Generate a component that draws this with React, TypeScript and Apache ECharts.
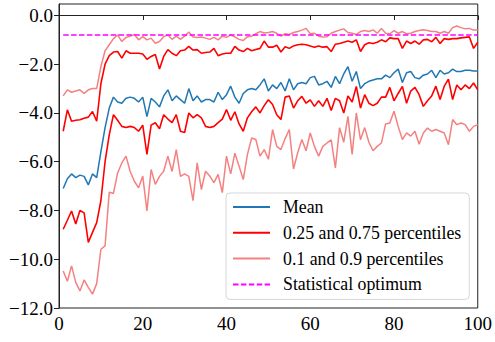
import React, { useEffect, useRef } from "react";
import * as echarts from "echarts";

const xValues: number[] = Array.from({ length: 100 }, (_, i) => i + 1);

const meanValues: number[] = [
  -7.1, -6.7, -6.5, -6.65, -6.55, -6.6, -6.95, -6.5, -6.65, -5.6,
  -4.6, -3.8, -3.35, -3.55, -3.6, -3.4, -3.35, -3.4, -3.55, -3.35,
  -4.15, -3.4, -3.55, -3.75, -3.3, -3.05, -3.5, -3.3, -3.45, -3.6,
  -3.0, -3.5, -3.3, -3.55, -3.45, -3.45, -3.55, -3.15, -3.45, -3.25,
  -2.9, -3.35, -3.6, -3.2, -3.05, -3.0, -3.05, -2.85, -2.6, -3.1,
  -2.85, -3.0, -2.75, -3.1, -2.6, -3.05, -2.8, -2.75, -2.8, -2.55,
  -2.5, -2.85, -2.8, -2.7, -2.95, -2.5, -2.8, -2.4, -2.1, -2.7,
  -2.3, -3.0, -2.8, -2.7, -2.65, -2.6, -2.6, -2.45, -2.55, -2.35,
  -2.2, -2.75, -2.35, -2.3, -2.55, -2.6, -2.45, -2.4, -2.25, -2.55,
  -2.25, -2.4, -2.35, -2.2, -2.3, -2.3, -2.25, -2.25, -2.28, -2.28,
];

const p75Values: number[] = [
  -4.75, -3.87, -4.34, -4.3, -4.28, -4.22, -4.17, -3.94, -4.34, -2.8,
  -2.0, -1.65, -1.5, -1.48, -1.75, -1.45, -1.55, -1.55, -1.55, -1.58,
  -1.8, -1.68, -1.6, -2.2, -1.68, -1.4, -1.55, -1.65, -1.45, -1.42,
  -1.27, -1.42, -1.4, -1.55, -1.52, -1.5, -1.35, -1.65, -1.58, -1.55,
  -1.55, -1.27, -1.42, -1.48, -1.35, -1.45, -1.4, -1.35, -1.05, -1.3,
  -1.3, -1.22, -1.5, -1.28, -1.35, -1.25, -1.2, -1.18, -1.2, -1.25,
  -1.3, -1.25, -1.3, -1.28, -1.48, -1.18, -1.15, -1.1, -1.05, -1.1,
  -1.0, -1.48, -1.2, -1.12, -1.15, -1.1, -1.0, -1.08, -0.92, -0.95,
  -0.95, -1.35, -1.05, -1.15, -1.05, -1.18, -1.0, -0.98, -1.08, -0.9,
  -1.15, -0.95, -0.98, -0.95, -0.95, -0.92, -0.9, -0.88, -1.35, -1.1,
];

const p25Values: number[] = [
  -8.77, -8.4, -8.02, -8.55, -8.0, -8.1, -9.31, -8.9, -8.5, -7.6,
  -6.0, -4.9, -4.07, -4.3, -4.55, -4.6, -4.55, -4.6, -4.75, -4.5,
  -5.7, -4.5, -4.4, -4.65, -4.07, -4.25, -4.4, -4.07, -4.75, -4.8,
  -4.0, -4.2, -4.07, -4.2, -4.55, -4.6, -4.55, -4.4, -4.25, -3.86,
  -4.3, -3.95, -4.45, -4.75, -4.2, -3.95, -3.75, -4.0, -3.7, -3.46,
  -3.65, -4.07, -4.27, -3.35, -3.3, -3.8, -3.5, -3.32, -3.6, -3.46,
  -3.73, -3.5, -3.73, -3.4, -3.9, -3.4, -3.5, -4.0, -3.3, -3.55,
  -2.91, -3.8, -3.25, -3.6, -3.7, -3.6, -3.35, -3.35, -2.95, -3.5,
  -3.2, -2.91, -3.6, -3.1, -2.95, -3.25, -3.73, -3.5, -3.3, -2.9,
  -3.45, -2.9, -2.61, -3.45, -2.85, -3.05, -2.85, -3.0, -2.77, -3.05,
];

const p90Values: number[] = [
  -3.3, -3.05, -3.15, -3.1, -3.05, -3.2, -3.05, -3.0, -3.0, -2.1,
  -1.45, -1.2, -0.95, -0.8, -1.07, -0.9, -0.85, -0.78, -1.0, -0.87,
  -1.0, -0.93, -1.14, -1.07, -0.87, -0.8, -0.98, -0.85, -0.98, -0.85,
  -0.68, -0.88, -0.9, -0.88, -0.93, -0.98, -0.9, -1.0, -0.85, -0.9,
  -0.8, -0.88, -0.98, -1.03, -0.87, -0.85, -0.75, -0.66, -0.72, -0.7,
  -0.66, -0.73, -0.85, -0.75, -0.78, -0.7, -0.66, -0.6, -0.53, -0.75,
  -0.73, -0.85, -0.88, -0.87, -0.73, -0.66, -0.6, -0.55, -0.7, -0.73,
  -0.78, -0.66, -0.62, -0.66, -0.59, -0.73, -0.53, -0.73, -0.75, -0.62,
  -0.73, -0.66, -0.75, -0.73, -0.66, -0.62, -0.59, -0.62, -0.66, -0.66,
  -0.73, -0.66, -0.73, -0.5, -0.43, -0.5, -0.55, -0.53, -0.6, -0.6,
];

const p10Values: number[] = [
  -10.48, -10.9, -10.27, -10.95, -11.3, -10.85, -11.15, -11.43, -11.0, -9.59,
  -9.45, -7.25, -7.3, -6.46, -6.05, -5.77, -6.4, -6.8, -7.07, -6.59,
  -8.02, -6.32, -6.93, -6.6, -6.39, -5.77, -6.4, -5.5, -6.6, -6.5,
  -6.6, -7.6, -6.05, -7.14, -6.39, -6.59, -6.86, -6.52, -7.27, -5.77,
  -6.5, -5.65, -6.18, -6.73, -5.7, -5.03, -5.09, -5.77, -5.5, -5.9,
  -4.68, -5.37, -5.5, -5.05, -4.68, -6.3, -5.63, -5.09, -5.55, -4.82,
  -5.37, -5.77, -5.37, -5.23, -5.1, -6.25, -4.6, -5.2, -4.14, -5.7,
  -4.0, -5.1, -4.6, -5.2, -5.55, -5.37, -5.23, -4.45, -4.41, -3.93,
  -4.55, -5.09, -4.82, -4.95, -4.75, -5.28, -4.82, -4.62, -4.75, -4.68,
  -4.75, -4.82, -5.3, -4.27, -4.48, -4.41, -4.48, -4.75, -4.55, -4.48,
];

const optimumX: number[] = [1, 100];
const optimumValue = -0.8;

const yTicks: number[] = [-12, -10, -8, -6, -4, -2, 0];

const legendNames: string[] = [
  "Mean",
  "0.25 and 0.75 percentiles",
  "0.1 and 0.9 percentiles",
  "Statistical optimum",
];

const FONT = "Liberation Serif";

function pairs(xs: number[], ys: number[]): number[][] {
  return ys.map((v, i) => [xs[i], v]);
}

export default function App() {
  const ref = useRef<HTMLDivElement>(null);

  useEffect(() => {
    if (!ref.current) return;
    const chart = echarts.init(ref.current, undefined, { renderer: "svg" });

    const lineSeries = (name: string, data: number[][], color: string, width: number, type: any = "solid") => ({
      name,
      type: "line",
      data,
      showSymbol: false,
      symbol: "none",
      lineStyle: { color, width, type },
      itemStyle: { color },
      emphasis: { disabled: true },
    });

    chart.setOption({
      animation: false,
      backgroundColor: "#ffffff",
      textStyle: { fontFamily: FONT },
      grid: {
        left: 59,
        right: 17,
        top: 4,
        bottom: 34,
        show: true,
        borderColor: "#222",
        borderWidth: 1,
        backgroundColor: "transparent",
      },
      xAxis: {
        type: "value",
        min: 0,
        max: 100,
        interval: 20,
        axisLine: { show: true, lineStyle: { color: "#222", width: 1 } },
        axisTick: { show: true, inside: false, length: 4.5, lineStyle: { color: "#222" } },
        splitLine: { show: false },
        axisLabel: {
          margin: 6,
          fontFamily: FONT,
          fontSize: 19,
          color: "#000",
          formatter: (v: number) => String(Math.round(v)),
        },
      },
      yAxis: {
        type: "value",
        min: -12,
        max: 0.47,
        interval: 2,
        axisLine: { show: true, lineStyle: { color: "#222", width: 1 } },
        axisTick: {
          show: true,
          inside: false,
          length: 5,
          lineStyle: { color: "#222" },
          customValues: yTicks,
        },
        splitLine: { show: false },
        axisLabel: {
          margin: 6,
          fontFamily: FONT,
          fontSize: 19,
          color: "#000",
          customValues: yTicks,
          formatter: (v: number) => (v < 0 ? "\u2212" + Math.abs(v).toFixed(1) : Math.abs(v).toFixed(1)),
        },
      },
      legend: {
        data: legendNames,
        orient: "vertical",
        left: 226,
        top: 193,
        itemWidth: 37,
        itemHeight: 20,
        itemGap: 5.8,
        padding: [4, 8, 5, 6],
        backgroundColor: "rgba(255,255,255,0.85)",
        borderColor: "#d6d6d6",
        borderWidth: 1,
        borderRadius: 4,
        selectedMode: false,
        itemStyle: { color: "rgba(0,0,0,0)", borderWidth: 0, opacity: 0 },
        textStyle: {
          fontFamily: FONT,
          fontSize: 17.8,
          lineHeight: 20,
          color: "#000",
          padding: [0, 0, 0, 8],
        },
      },
      series: [
        lineSeries(legendNames[0], pairs(xValues, meanValues), "#1f77b4", 1.5),
        lineSeries(legendNames[1], pairs(xValues, p25Values), "#ff0000", 1.6),
        lineSeries(legendNames[1], pairs(xValues, p75Values), "#ff0000", 1.6),
        lineSeries(legendNames[2], pairs(xValues, p10Values), "#f58080", 1.5),
        lineSeries(legendNames[2], pairs(xValues, p90Values), "#f58080", 1.5),
        lineSeries(
          legendNames[3],
          optimumX.map((x) => [x, optimumValue]),
          "#ff00ff",
          1.5,
          [5.5, 2.4]
        ),
      ],
    });

    return () => chart.dispose();
  }, []);

  return (
    <div
      ref={ref}
      style={{ position: "absolute", left: 0, top: 0, width: 495, height: 342 }}
    />
  );
}
